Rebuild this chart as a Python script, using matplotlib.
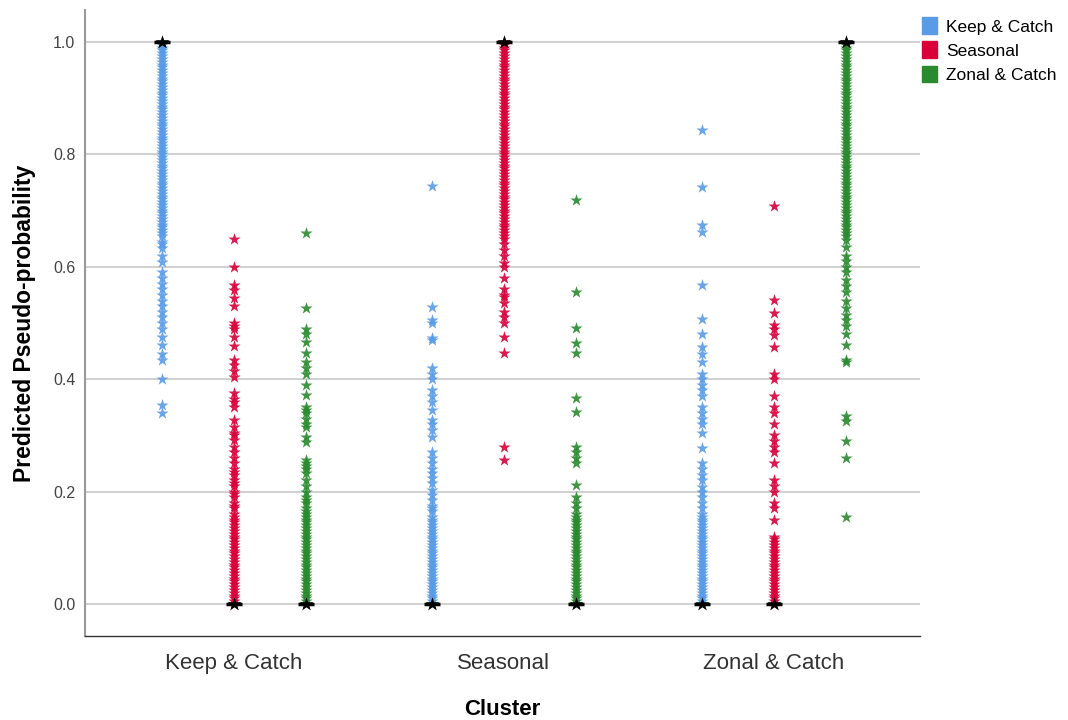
import numpy as np
import matplotlib
matplotlib.use("Agg")
import matplotlib.pyplot as plt
from matplotlib.patches import Patch

matplotlib.rcParams['font.family'] = ["Liberation Sans", "DejaVu Sans"]

clusters = ["Keep & Catch", "Seasonal", "Zonal & Catch"]
series = ["Keep & Catch", "Seasonal", "Zonal & Catch"]
colors = ["#5A9BE6", "#D9003A", "#2A8A2E"]

# predicted pseudo-probabilities
# the high band of the column that matches its own cluster (solid in the picture)
high_band = [1.0, 0.995, 0.99, 0.985, 0.98, 0.975, 0.97, 0.965, 0.96, 0.955, 0.95, 0.945,
             0.94, 0.935, 0.93, 0.925, 0.92, 0.915, 0.91, 0.905, 0.90, 0.895, 0.89, 0.885,
             0.88, 0.875, 0.87, 0.865, 0.86, 0.855, 0.85, 0.845, 0.84, 0.835, 0.83, 0.825,
             0.82, 0.815, 0.81, 0.805, 0.80, 0.795, 0.79, 0.785, 0.78, 0.775, 0.77, 0.765,
             0.76, 0.755, 0.75, 0.745, 0.74, 0.735, 0.73, 0.725, 0.72, 0.715, 0.71, 0.705,
             0.70, 0.695, 0.69, 0.685, 0.68, 0.675, 0.67, 0.665, 0.66]
# the low band of the other columns (solid near zero)
low_band = [0.15, 0.145, 0.14, 0.135, 0.13, 0.125, 0.12, 0.115, 0.11, 0.105, 0.10, 0.095,
            0.09, 0.085, 0.08, 0.075, 0.07, 0.065, 0.06, 0.055, 0.05, 0.045, 0.04, 0.035,
            0.03, 0.025, 0.02, 0.015, 0.01, 0.005, 0.0]

# cluster Keep & Catch
kc_keep = high_band + [0.655, 0.645, 0.64, 0.633, 0.62, 0.608, 0.59, 0.58, 0.57, 0.56,
                       0.55, 0.54, 0.53, 0.52, 0.51, 0.50, 0.49, 0.475, 0.46, 0.445, 0.434,
                       0.40, 0.354, 0.34]
kc_seas = [0.649, 0.600, 0.568, 0.559, 0.545, 0.53, 0.50, 0.495, 0.49, 0.475, 0.459,
           0.434, 0.425, 0.415, 0.404, 0.375, 0.365, 0.36, 0.35, 0.327, 0.315, 0.305,
           0.30, 0.292, 0.28, 0.27, 0.26, 0.25, 0.24, 0.235, 0.23, 0.22, 0.215, 0.21,
           0.20, 0.195, 0.19, 0.18, 0.175, 0.17, 0.16, 0.155] + low_band
kc_zon = [0.66, 0.527, 0.49, 0.48, 0.466, 0.447, 0.43, 0.42, 0.41, 0.39, 0.372, 0.35,
          0.345, 0.34, 0.33, 0.32, 0.315, 0.297, 0.288, 0.256, 0.25, 0.245, 0.24, 0.233,
          0.22, 0.21, 0.20, 0.19, 0.185, 0.18, 0.17, 0.165, 0.16, 0.155] + low_band
# cluster Seasonal
se_keep = [0.744, 0.528, 0.505, 0.50, 0.473, 0.47, 0.42, 0.41, 0.40, 0.38, 0.37, 0.36,
           0.345, 0.327, 0.32, 0.31, 0.297, 0.27, 0.26, 0.25, 0.24, 0.233, 0.225, 0.215,
           0.203, 0.194, 0.185, 0.175, 0.17, 0.165, 0.155] + low_band
se_seas = high_band + [0.655, 0.65, 0.64, 0.63, 0.62, 0.607, 0.60, 0.58, 0.56, 0.55,
                       0.546, 0.535, 0.52, 0.51, 0.50, 0.475, 0.447, 0.28, 0.256]
se_zon = [0.719, 0.556, 0.491, 0.464, 0.447, 0.367, 0.342, 0.28, 0.27, 0.26, 0.25,
          0.212, 0.19, 0.18, 0.17, 0.16, 0.155] + low_band
# cluster Zonal & Catch
zo_keep = [0.843, 0.742, 0.674, 0.662, 0.568, 0.507, 0.48, 0.457, 0.445, 0.43, 0.41,
           0.40, 0.39, 0.38, 0.37, 0.35, 0.34, 0.33, 0.32, 0.304, 0.278, 0.25, 0.24,
           0.23, 0.22, 0.208, 0.20, 0.19, 0.18, 0.17, 0.16, 0.155] + low_band
zo_seas = [0.708, 0.541, 0.518, 0.496, 0.49, 0.479, 0.457, 0.41, 0.40, 0.37, 0.35,
           0.34, 0.32, 0.30, 0.29, 0.28, 0.27, 0.25, 0.22, 0.21, 0.20, 0.18, 0.17,
           0.15, 0.12, 0.115, 0.11, 0.105, 0.10, 0.095, 0.09, 0.085, 0.08, 0.075, 0.07,
           0.065, 0.06, 0.055, 0.05, 0.045, 0.04, 0.035, 0.03, 0.025, 0.02, 0.015,
           0.01, 0.005, 0.0]
zo_zon = high_band + [0.655, 0.648, 0.635, 0.62, 0.61, 0.60, 0.59, 0.576, 0.565, 0.555,
                      0.54, 0.527, 0.515, 0.505, 0.495, 0.48, 0.46, 0.435, 0.43, 0.335,
                      0.325, 0.29, 0.26, 0.155]

data = [[kc_keep, kc_seas, kc_zon],
        [se_keep, se_seas, se_zon],
        [zo_keep, zo_seas, zo_zon]]
# level of the collapsed box for each column
box_level = [[1.0, 0.0, 0.0],
             [0.0, 1.0, 0.0],
             [0.0, 0.0, 1.0]]

fig = plt.figure(figsize=(10.68, 7.2), dpi=100)
ax = fig.add_axes([0.0796, 0.1167, 0.7815, 0.8694])

offsets = [-0.267, 0.0, 0.267]
for i in range(len(clusters)):
    for j in range(len(series)):
        vals = np.array(data[i][j])
        xpos = np.full(len(vals), i + offsets[j])
        ax.scatter(xpos, vals, marker="*", s=85, color=colors[j], linewidths=0,
                   alpha=0.9, zorder=3)
        lvl = box_level[i][j]
        ax.plot([i + offsets[j] - 0.03, i + offsets[j] + 0.03], [lvl, lvl],
                color="black", lw=2.5, zorder=4, solid_capstyle="butt")
        ax.scatter([i + offsets[j]], [lvl], marker="*", s=110, color="black",
                   linewidths=0, zorder=4)

ax.set_xlim(-0.552, 2.541)
ax.set_ylim(-0.057, 1.057)
ax.set_yticks([0.0, 0.2, 0.4, 0.6, 0.8, 1.0])
ax.set_yticklabels(["0.0", "0.2", "0.4", "0.6", "0.8", "1.0"])
ax.set_xticks(range(len(clusters)))
ax.set_xticklabels(clusters, fontsize=16, color="#333333")
ax.tick_params(axis="both", length=0)
ax.tick_params(axis="y", labelsize=11.5, labelcolor="#444444", pad=7)
ax.tick_params(axis="x", pad=12)
ax.grid(axis="y", color="#C8C8C8", lw=1.2, zorder=0)
ax.set_axisbelow(True)
for side in ["top", "right"]:
    ax.spines[side].set_visible(False)
ax.spines["left"].set_color("#999999")
ax.spines["left"].set_linewidth(1.5)
ax.spines["bottom"].set_color("#333333")
ax.spines["bottom"].set_linewidth(1.0)

ax.set_ylabel("Predicted Pseudo-probability", fontsize=16.5, fontweight="bold", labelpad=12)
ax.set_xlabel("Cluster", fontsize=16, fontweight="bold", labelpad=18)

handles = [Patch(facecolor=c, edgecolor=c) for c in colors]
ax.legend(handles, series, loc="upper left", bbox_to_anchor=(0.99, 1.005), frameon=False,
          fontsize=12.5, handlelength=0.9, handleheight=1.1, handletextpad=0.5,
          labelspacing=0.4, borderaxespad=0.2)

fig.savefig("out.png", dpi=100)
